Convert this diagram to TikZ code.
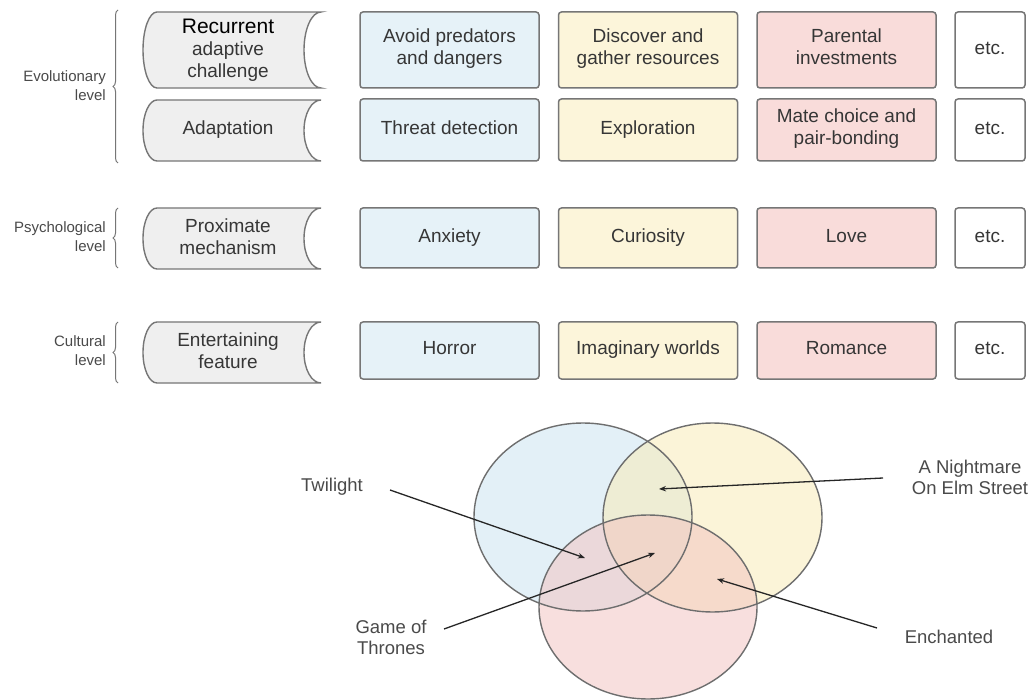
\documentclass[tikz,border=0pt]{standalone}
\usepackage{fontspec}
\setmainfont{Liberation Sans}
\usetikzlibrary{arrows.meta,decorations.pathreplacing}
\definecolor{boxline}{HTML}{767676}
\definecolor{shapegray}{HTML}{EFEFEF}
\definecolor{txt}{HTML}{363636}
\definecolor{lbltxt}{HTML}{4A4A4A}
\definecolor{cblue}{HTML}{E6F2F8}
\definecolor{cyellow}{HTML}{FCF5DA}
\definecolor{cpink}{HTML}{F9DCDA}
\definecolor{vblue}{HTML}{C9E3F1}
\definecolor{vyellow}{HTML}{F9EBB3}
\definecolor{vpink}{HTML}{F3C1BF}
\definecolor{vline}{HTML}{6E6E6E}
\newcommand\boxfont{\fontsize{19}{22}\selectfont}
\newcommand\sidefont{\fontsize{15}{19}\selectfont}
\newcommand\lvlshape[2]{%
  \draw[lvlbox] (157,#1) -- (321,#1)
    arc[start angle=90,end angle=270,x radius=17pt,y radius=#2pt]
    -- (157,{#1+2*#2})
    arc[start angle=270,end angle=90,x radius=14pt,y radius=#2pt] -- cycle;}
\tikzset{
  lvlbox/.style={draw=boxline,line width=1.4pt,fill=shapegray},
  lvltext/.style={font=\boxfont,text=txt,align=center,inner sep=0pt,
    execute at begin node=\strut,execute at end node=\strut},
  cbox/.style={draw=boxline,line width=1.5pt,rounded corners=3pt,minimum width=179pt,
    minimum height=#1,inner sep=0pt,align=center,font=\boxfont,text=txt,
    execute at begin node=\strut,execute at end node=\strut},
  ebox/.style={cbox=#1,minimum width=70pt,fill=white},
  side/.style={font=\sidefont,text=lbltxt,align=right,anchor=east,inner sep=0pt},
  sbrace/.style={draw=boxline,line width=1pt,decorate,decoration={brace,amplitude=5pt}},
  vlbl/.style={font=\fontsize{18.5}{21}\selectfont,text=lbltxt,align=center,inner sep=0pt},
  arr/.style={draw=black!85,line width=1.3pt,-{Stealth[length=7pt,width=5.5pt]}},
  venn/.style={draw=vline,line width=1.4pt},
}
\begin{document}
\begin{tikzpicture}[x=1pt,y=-1pt]
\useasboundingbox[fill=white] (0,0) rectangle (1030,700);
% side labels and braces
\node[side] (evo) at (106,86) {Evolutionary\\level};
\draw[sbrace] (118,163) -- (118,10);
\node[side] (psy) at (106,237) {Psychological\\level};
\draw[sbrace] (118,268) -- (118,208);
\node[side] (cul) at (106,351) {Cultural\\level};
\draw[sbrace] (118,383) -- (118,322);
% level shapes
\lvlshape{12}{38}
\node[lvltext] (l1) at (228,52) {{\fontsize{21}{23}\selectfont\color{black}Recurrent}\\adaptive\\challenge};
\lvlshape{100}{30.5}
\node[lvltext] (l2) at (228,130) {Adaptation};
\lvlshape{208}{30.5}
\node[lvltext] (l3) at (228,240) {Proximate\\mechanism};
\lvlshape{322}{30.5}
\node[lvltext] (l4) at (228,354) {Entertaining\\feature};
% row 1
\node[cbox=76pt,fill=cblue] (b11) at (449.5,50) {Avoid predators\\and dangers};
\node[cbox=76pt,fill=cyellow] (b12) at (648,50) {Discover and\\gather resources};
\node[cbox=76pt,fill=cpink] (b13) at (846.5,50) {Parental\\investments};
\node[ebox=76pt] (b14) at (990,50) {etc.};
% row 2
\node[cbox=62pt,fill=cblue] (b21) at (449.5,130) {Threat detection};
\node[cbox=62pt,fill=cyellow] (b22) at (648,130) {Exploration};
\node[cbox=62pt,fill=cpink] (b23) at (846.5,130) {Mate choice and\\pair-bonding};
\node[ebox=62pt] (b24) at (990,130) {etc.};
% row 3
\node[cbox=60pt,fill=cblue] (b31) at (449.5,238) {Anxiety};
\node[cbox=60pt,fill=cyellow] (b32) at (648,238) {Curiosity};
\node[cbox=60pt,fill=cpink] (b33) at (846.5,238) {Love};
\node[ebox=60pt] (b34) at (990,238) {etc.};
% row 4
\node[cbox=57pt,fill=cblue] (b41) at (449.5,350.5) {Horror};
\node[cbox=57pt,fill=cyellow] (b42) at (648,350.5) {Imaginary worlds};
\node[cbox=57pt,fill=cpink] (b43) at (846.5,350.5) {Romance};
\node[ebox=57pt] (b44) at (990,350.5) {etc.};
% Venn
\fill[vblue,fill opacity=0.5] (583,517) ellipse[x radius=109pt,y radius=94pt];
\fill[vyellow,fill opacity=0.5] (712.5,517.5) ellipse[x radius=109.5pt,y radius=94.5pt];
\fill[vpink,fill opacity=0.5] (648,607) ellipse[x radius=109pt,y radius=92pt];
\draw[venn] (583,517) ellipse[x radius=109pt,y radius=94pt];
\draw[venn] (712.5,517.5) ellipse[x radius=109.5pt,y radius=94.5pt];
\draw[venn] (648,607) ellipse[x radius=109pt,y radius=92pt];
% labels
\node[vlbl] (tw) at (332,487) {Twilight};
\node[vlbl] (got) at (391,637) {Game of\\Thrones};
\node[vlbl] (nm) at (970,477) {A Nightmare\\On Elm Street};
\node[vlbl] (en) at (949,637) {Enchanted};
\coordinate (twS) at (390,490); \coordinate (twT) at (585,558);
\coordinate (gotS) at (444,629); \coordinate (gotT) at (655,553);
\coordinate (nmS) at (883,478); \coordinate (nmT) at (659,489);
\coordinate (enS) at (877,628); \coordinate (enT) at (717,579);
\draw[arr] (twS) -- (twT);
\draw[arr] (gotS) -- (gotT);
\draw[arr] (nmS) -- (nmT);
\draw[arr] (enS) -- (enT);
\end{tikzpicture}
\end{document}
